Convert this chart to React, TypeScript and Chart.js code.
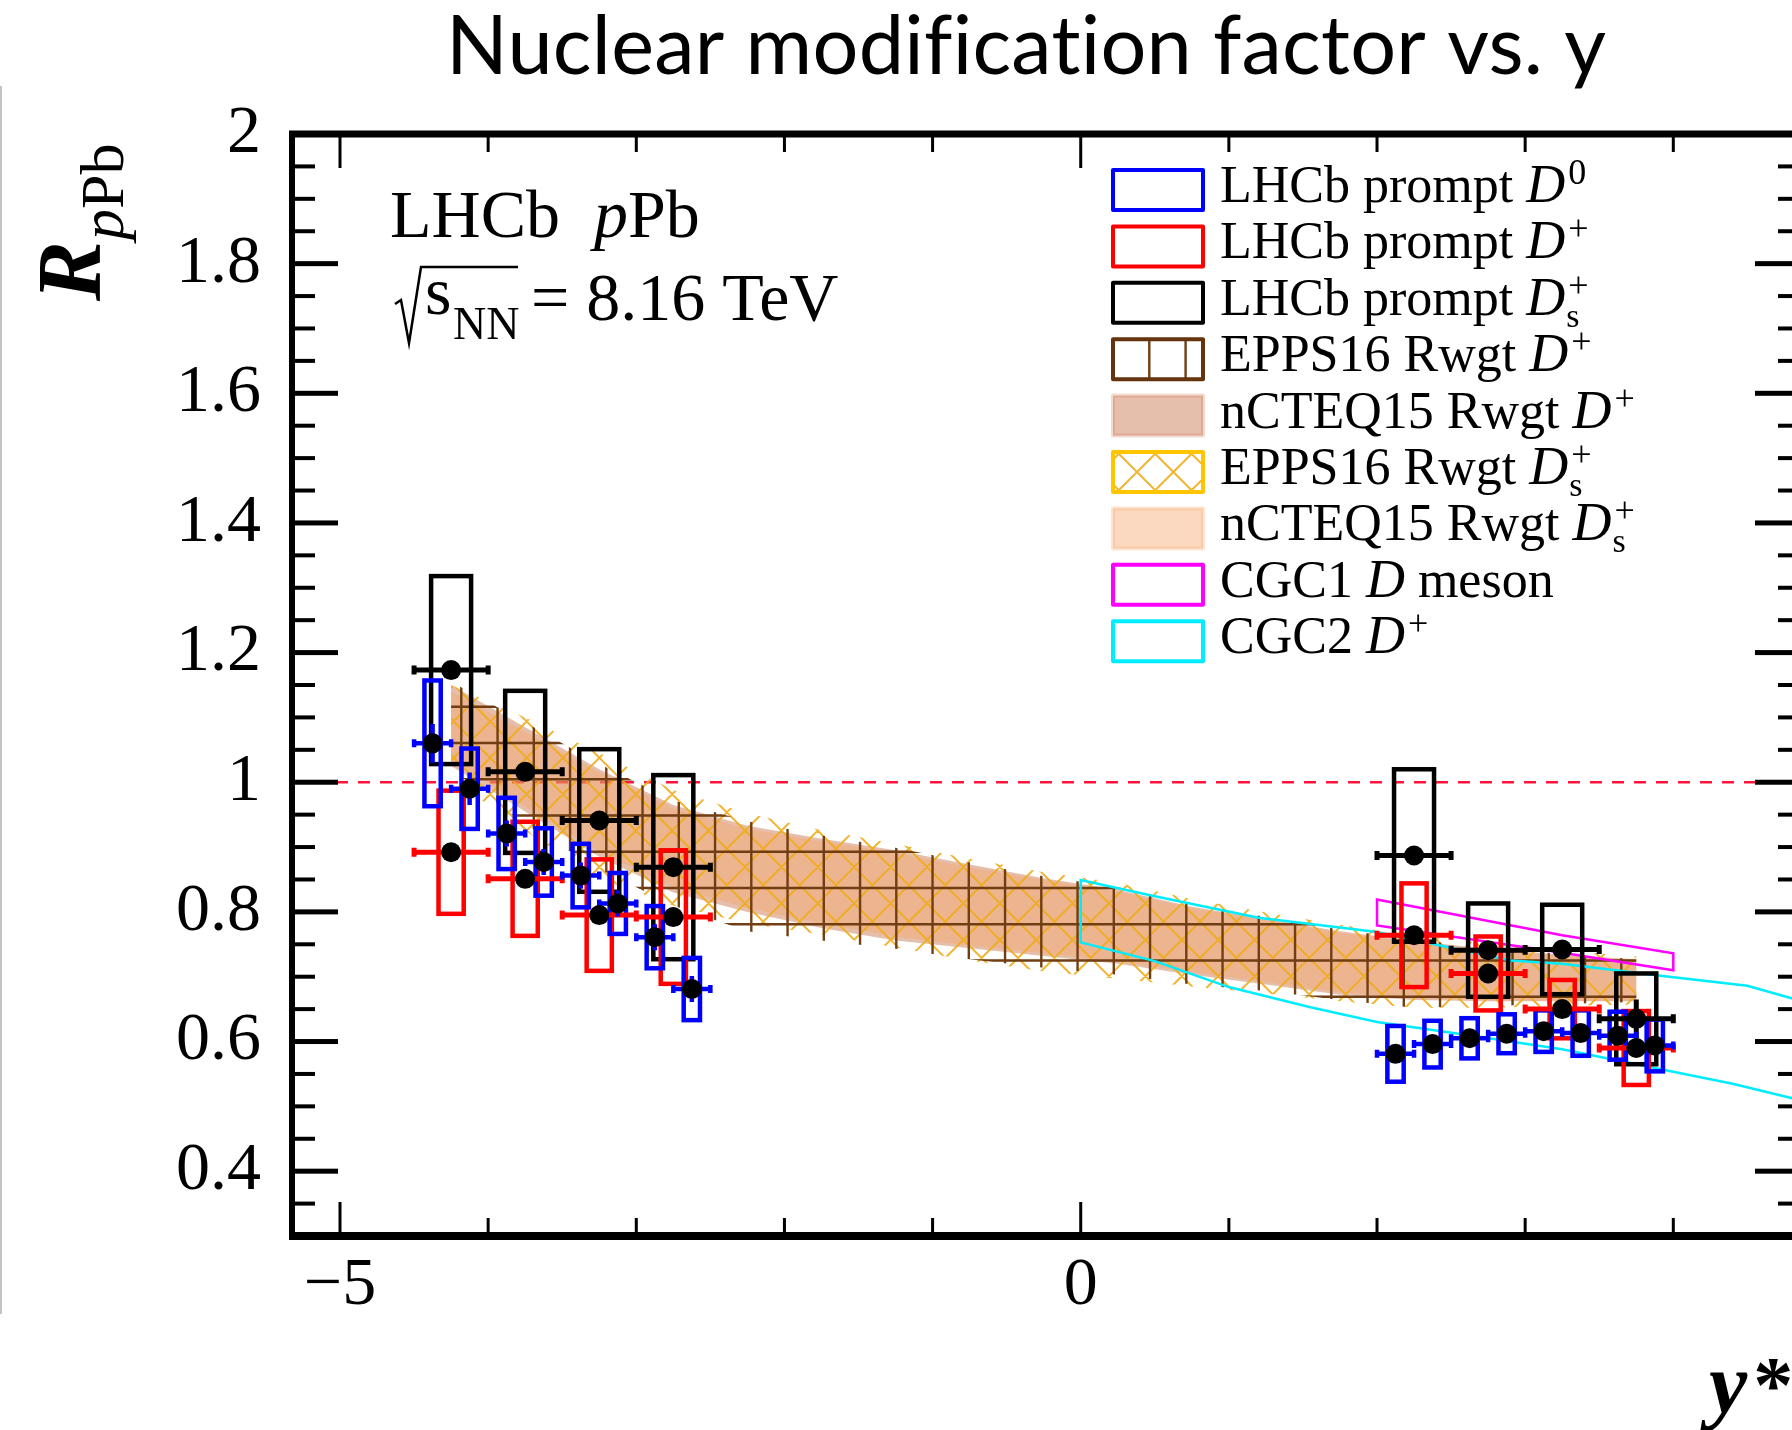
import React, { useEffect, useRef } from 'react';
import { Chart, registerables } from 'chart.js';

Chart.register(...registerables);

const SERIF = "'Liberation Serif', 'Times New Roman', Times, serif";
const SANS = "Lato, 'Open Sans', 'Noto Sans', sans-serif";

const CANVAS_W = 1900;
const CANVAS_H = 1430;

// axes: rapidity y* and nuclear modification factor R_pPb
const X_MIN = -5.324;
const X_MAX = 4.862;
const Y_MIN = 0.3;
const Y_MAX = 2.0;
const X_LABEL_TICKS = [-5, 0];
const X_TICKS = [-5, -4, -3, -2, -1, 0, 1, 2, 3, 4];
const Y_LABEL_TICKS = [0.4, 0.6, 0.8, 1, 1.2, 1.4, 1.6, 1.8, 2];

// LHCb prompt D0 (bin half-width 0.125)
const D0_YSTAR = [-4.375, -4.125, -3.875, -3.625, -3.375, -3.125, -2.875, -2.625, 2.125, 2.375, 2.625, 2.875, 3.125, 3.375, 3.625, 3.875];
const D0_R = [1.06, 0.99, 0.921, 0.877, 0.856, 0.813, 0.761, 0.681, 0.581, 0.596, 0.605, 0.612, 0.616, 0.613, 0.609, 0.594];
const D0_STAT = [0.03, 0.025, 0.02, 0.02, 0.02, 0.02, 0.02, 0.02, 0.012, 0.01, 0.01, 0.01, 0.01, 0.01, 0.01, 0.012];
const D0_SYST = [0.097, 0.062, 0.055, 0.052, 0.049, 0.047, 0.048, 0.048, 0.043, 0.036, 0.031, 0.03, 0.032, 0.035, 0.037, 0.04];

// LHCb prompt D+ (bin half-width 0.25)
const DP_YSTAR = [-4.25, -3.75, -3.25, -2.75, 2.25, 2.75, 3.25, 3.75];
const DP_R = [0.892, 0.851, 0.795, 0.792, 0.764, 0.705, 0.65, 0.59];
const DP_STAT = [0.012, 0.012, 0.012, 0.012, 0.01, 0.01, 0.01, 0.012];
const DP_SYST = [0.095, 0.088, 0.086, 0.103, 0.08, 0.057, 0.045, 0.057];

// LHCb prompt Ds+ (bin half-width 0.25)
const DS_YSTAR = [-4.25, -3.75, -3.25, -2.75, 2.25, 2.75, 3.25, 3.75];
const DS_R = [1.173, 1.016, 0.941, 0.869, 0.887, 0.741, 0.742, 0.635];
const DS_STAT = [0.012, 0.012, 0.012, 0.012, 0.012, 0.012, 0.012, 0.03];
const DS_SYST = [0.145, 0.125, 0.11, 0.142, 0.133, 0.072, 0.069, 0.07];

// reweighted nPDF predictions
const BAND_YSTAR = [-4.25, -3.75, -3.25, -2.75, -2.25, -1.75, -1.25, -0.75, -0.25, 0.25, 0.75, 1.25, 1.75, 2.25, 2.75, 3.25, 3.75];
const EPPS_DP_HI = [1.155, 1.092, 1.028, 0.972, 0.94, 0.918, 0.899, 0.876, 0.855, 0.838, 0.812, 0.792, 0.773, 0.757, 0.745, 0.735, 0.727];
const EPPS_DP_LO = [1.02, 0.935, 0.866, 0.81, 0.77, 0.756, 0.743, 0.727, 0.714, 0.703, 0.688, 0.678, 0.664, 0.652, 0.655, 0.658, 0.661];
const NCTEQ_DP_HI = [1.15, 1.085, 1.02, 0.965, 0.933, 0.913, 0.895, 0.873, 0.852, 0.834, 0.808, 0.789, 0.77, 0.755, 0.743, 0.734, 0.727];
const NCTEQ_DP_LO = [1.025, 0.955, 0.885, 0.83, 0.8, 0.775, 0.756, 0.744, 0.732, 0.72, 0.703, 0.688, 0.672, 0.664, 0.662, 0.662, 0.662];
const EPPS_DS_HI = [1.15, 1.1, 1.045, 0.988, 0.952, 0.926, 0.905, 0.882, 0.861, 0.845, 0.82, 0.799, 0.78, 0.764, 0.751, 0.741, 0.731];
const EPPS_DS_LO = [1.005, 0.925, 0.852, 0.81, 0.782, 0.765, 0.745, 0.725, 0.708, 0.697, 0.685, 0.674, 0.662, 0.652, 0.652, 0.655, 0.657];
const NCTEQ_DS_HI = [1.14, 1.078, 1.015, 0.96, 0.928, 0.909, 0.891, 0.869, 0.849, 0.831, 0.806, 0.787, 0.768, 0.753, 0.741, 0.732, 0.725];
const NCTEQ_DS_LO = [1.035, 0.962, 0.893, 0.838, 0.806, 0.782, 0.762, 0.748, 0.736, 0.724, 0.707, 0.692, 0.676, 0.667, 0.664, 0.663, 0.663];

// CGC predictions
const CGC1_YSTAR = [2.0, 3.25, 4.0];
const CGC1_HI = [0.819, 0.764, 0.736];
const CGC1_LO = [0.779, 0.737, 0.71];
const CGC2_UP_YSTAR = [0, 0.5, 1.2, 2.0, 2.9, 3.25, 3.9, 4.5, 4.81];
const CGC2_UP = [0.849, 0.824, 0.791, 0.769, 0.725, 0.72, 0.702, 0.686, 0.666];
const CGC2_LO_YSTAR = [0, 0.5, 1.0, 1.55, 2.0, 2.55, 3.25, 3.9, 4.4, 4.81];
const CGC2_LO = [0.753, 0.724, 0.684, 0.653, 0.63, 0.612, 0.588, 0.558, 0.535, 0.512];

const TITLE = 'Nuclear modification factor vs. y';

const LEGEND = [
  { head: 'LHCb prompt ', sup: '0', swatch: 'blue' },
  { head: 'LHCb prompt ', sup: '+', swatch: 'red' },
  { head: 'LHCb prompt ', sup: '+', sub: 's', swatch: 'black' },
  { head: 'EPPS16 Rwgt ', sup: '+', swatch: 'grid' },
  { head: 'nCTEQ15 Rwgt ', sup: '+', swatch: 'fillDp' },
  { head: 'EPPS16 Rwgt ', sup: '+', sub: 's', swatch: 'cross' },
  { head: 'nCTEQ15 Rwgt ', sup: '+', sub: 's', swatch: 'fillDs' },
  { head: 'CGC1 ', tail: ' meson', swatch: 'magenta' },
  { head: 'CGC2 ', sup: '+', swatch: 'cyan' },
];

const FILL_DP = 'rgba(200,110,70,0.45)';
const FILL_DS = 'rgba(245,165,105,0.42)';
const BROWN = 'rgb(112,62,18)';
const YELLOW = 'rgba(240,172,25,0.9)';
const MAGENTA = '#ff00ff';
const CYAN = 'rgb(0,236,255)';

type Run = { t: string; style?: string; size: number; dy?: number; dx?: number; adv?: boolean; family?: string };

function drawRuns(ctx: CanvasRenderingContext2D, x: number, y: number, runs: Run[]) {
  let cx = x;
  for (const r of runs) {
    ctx.font = `${r.style ?? ''} ${r.size}px ${r.family ?? SERIF}`;
    ctx.fillText(r.t, cx + (r.dx ?? 0), y + (r.dy ?? 0));
    if (r.adv !== false) cx += ctx.measureText(r.t).width + (r.dx ?? 0);
  }
  return cx;
}

function bandPath(ctx: CanvasRenderingContext2D, px: (v: number) => number, py: (v: number) => number, xs: number[], hi: number[], lo: number[]) {
  ctx.beginPath();
  xs.forEach((v, i) => (i ? ctx.lineTo(px(v), py(hi[i])) : ctx.moveTo(px(v), py(hi[i]))));
  for (let i = xs.length - 1; i >= 0; i--) ctx.lineTo(px(xs[i]), py(lo[i]));
  ctx.closePath();
}

function gridHatch(ctx: CanvasRenderingContext2D, l: number, t: number, r: number, b: number, step: number, ox: number, oy: number) {
  ctx.beginPath();
  for (let gx = ox + Math.ceil((l - ox) / step) * step; gx <= r; gx += step) {
    ctx.moveTo(gx, t);
    ctx.lineTo(gx, b);
  }
  for (let gy = oy + Math.ceil((t - oy) / step) * step; gy <= b; gy += step) {
    ctx.moveTo(l, gy);
    ctx.lineTo(r, gy);
  }
  ctx.stroke();
}

function crossHatch(ctx: CanvasRenderingContext2D, l: number, t: number, r: number, b: number, step: number, ox: number) {
  const h = b - t;
  ctx.beginPath();
  const start = ox + Math.floor((l - h - ox) / step) * step - step;
  for (let c = start; c <= r + step; c += step) {
    ctx.moveTo(c, t);
    ctx.lineTo(c + h, b);
    ctx.moveTo(c + h, t);
    ctx.lineTo(c, b);
  }
  ctx.stroke();
}

function drawBoxes(ctx: CanvasRenderingContext2D, px: (v: number) => number, py: (v: number) => number, xs: number[], ys: number[], sys: number[], half: number, color: string, lw: number) {
  ctx.strokeStyle = color;
  ctx.lineWidth = lw;
  ctx.lineJoin = 'miter';
  xs.forEach((v, i) => {
    const l = px(v - half);
    const r = px(v + half);
    const t = py(ys[i] + sys[i]);
    const b = py(ys[i] - sys[i]);
    ctx.strokeRect(l, t, r - l, b - t);
  });
}

function drawErrors(ctx: CanvasRenderingContext2D, px: (v: number) => number, py: (v: number) => number, xs: number[], ys: number[], stat: number[], halfBin: number, color: string, lw: number, cap: number) {
  ctx.strokeStyle = color;
  ctx.lineWidth = lw;
  ctx.lineCap = 'butt';
  ctx.beginPath();
  xs.forEach((v, i) => {
    const c = px(v);
    const yy = py(ys[i]);
    const l = px(v - halfBin);
    const r = px(v + halfBin);
    ctx.moveTo(l, yy);
    ctx.lineTo(r, yy);
    ctx.moveTo(l, yy - cap);
    ctx.lineTo(l, yy + cap);
    ctx.moveTo(r, yy - cap);
    ctx.lineTo(r, yy + cap);
    ctx.moveTo(c, py(ys[i] + stat[i]));
    ctx.lineTo(c, py(ys[i] - stat[i]));
  });
  ctx.stroke();
}

const physicsLayers = {
  id: 'physicsLayers',
  beforeDatasetsDraw(chart: any) {
    const { ctx, chartArea: a, scales } = chart;
    const px = (v: number) => scales.x.getPixelForValue(v);
    const py = (v: number) => scales.y.getPixelForValue(v);
    ctx.save();
    ctx.beginPath();
    ctx.rect(a.left, a.top, a.right - a.left, a.bottom - a.top);
    ctx.clip();

    // R = 1 reference
    ctx.strokeStyle = 'rgb(255,20,60)';
    ctx.lineWidth = 2.5;
    ctx.setLineDash([12, 10]);
    ctx.beginPath();
    ctx.moveTo(a.left, py(1));
    ctx.lineTo(a.right, py(1));
    ctx.stroke();
    ctx.setLineDash([]);

    // nCTEQ15 filled bands
    bandPath(ctx, px, py, BAND_YSTAR, NCTEQ_DP_HI, NCTEQ_DP_LO);
    ctx.fillStyle = FILL_DP;
    ctx.fill();
    bandPath(ctx, px, py, BAND_YSTAR, NCTEQ_DS_HI, NCTEQ_DS_LO);
    ctx.fillStyle = FILL_DS;
    ctx.fill();

    // EPPS16 Ds+ cross hatch
    ctx.save();
    bandPath(ctx, px, py, BAND_YSTAR, EPPS_DS_HI, EPPS_DS_LO);
    ctx.clip();
    ctx.strokeStyle = YELLOW;
    ctx.lineWidth = 2;
    crossHatch(ctx, a.left, a.top, a.right, a.bottom, 36.4, 12);
    ctx.restore();

    // EPPS16 D+ grid hatch
    ctx.save();
    bandPath(ctx, px, py, BAND_YSTAR, EPPS_DP_HI, EPPS_DP_LO);
    ctx.clip();
    ctx.strokeStyle = BROWN;
    ctx.lineWidth = 2.4;
    gridHatch(ctx, a.left, a.top, a.right, a.bottom, 36.25, 26.3, 18);
    ctx.restore();

    // CGC1 band outline
    ctx.strokeStyle = MAGENTA;
    ctx.lineWidth = 2.5;
    ctx.lineJoin = 'miter';
    bandPath(ctx, px, py, CGC1_YSTAR, CGC1_HI, CGC1_LO);
    ctx.stroke();

    // CGC2 band outline (continues past the frame edge)
    ctx.strokeStyle = CYAN;
    ctx.lineWidth = 2.5;
    ctx.beginPath();
    for (let i = CGC2_LO_YSTAR.length - 1; i >= 0; i--) {
      const X = px(CGC2_LO_YSTAR[i]);
      const Y = py(CGC2_LO[i]);
      if (i === CGC2_LO_YSTAR.length - 1) ctx.moveTo(X, Y);
      else ctx.lineTo(X, Y);
    }
    CGC2_UP_YSTAR.forEach((v, i) => ctx.lineTo(px(v), py(CGC2_UP[i])));
    ctx.stroke();

    // systematic boxes
    drawBoxes(ctx, px, py, DS_YSTAR, DS_R, DS_SYST, 0.135, '#000', 4.5);
    drawBoxes(ctx, px, py, DP_YSTAR, DP_R, DP_SYST, 0.085, '#ff0000', 4.5);
    drawBoxes(ctx, px, py, D0_YSTAR, D0_R, D0_SYST, 0.055, '#0000ff', 4.5);

    // statistical errors and bin widths
    drawErrors(ctx, px, py, DS_YSTAR, DS_R, DS_STAT, 0.25, '#000', 5, 4.5);
    drawErrors(ctx, px, py, DP_YSTAR, DP_R, DP_STAT, 0.25, '#ff0000', 5, 4.5);
    drawErrors(ctx, px, py, D0_YSTAR, D0_R, D0_STAT, 0.125, '#0000ff', 4.5, 4);

    ctx.restore();
  },

  afterDraw(chart: any) {
    const { ctx, chartArea: a, scales } = chart;
    const px = (v: number) => scales.x.getPixelForValue(v);
    const py = (v: number) => scales.y.getPixelForValue(v);
    ctx.save();
    ctx.fillStyle = '#000';

    // frame
    ctx.fillRect(a.left - 3, a.top - 3.5, a.right - a.left + 6, 7);
    ctx.fillRect(a.left - 3, a.bottom - 4, a.right - a.left + 6, 8);
    ctx.fillRect(a.left - 3, a.top, 6, a.bottom - a.top);
    ctx.fillRect(a.right - 3, a.top, 6, a.bottom - a.top);

    // y ticks, every 0.05, major every 0.2
    for (let k = 7; k < 40; k++) {
      const v = k * 0.05;
      const major = k % 4 === 0;
      const len = major ? 46 : 23;
      const th = major ? 5 : 4;
      const Y = py(v);
      ctx.fillRect(a.left, Y - th / 2, len, th);
      ctx.fillRect(a.right - len, Y - th / 2, len, th);
    }
    // x ticks
    X_TICKS.forEach((v) => {
      const major = X_LABEL_TICKS.includes(v);
      const len = major ? 34 : 18;
      const X = px(v);
      ctx.fillRect(X - 1.5, a.top, 3, len);
      ctx.fillRect(X - 1.5, a.bottom - len, 3, len);
    });

    // experiment label
    ctx.textAlign = 'left';
    ctx.textBaseline = 'alphabetic';
    drawRuns(ctx, 390, 237, [
      { t: 'LHCb  ', size: 68 },
      { t: 'p', style: 'italic', size: 68 },
      { t: 'Pb', size: 68 },
    ]);
    ctx.strokeStyle = '#000';
    ctx.lineWidth = 2.5;
    ctx.lineJoin = 'miter';
    ctx.beginPath();
    ctx.moveTo(395, 304);
    ctx.lineTo(401, 300);
    ctx.lineTo(409, 343);
    ctx.lineTo(421, 267);
    ctx.lineTo(518, 267);
    ctx.stroke();
    drawRuns(ctx, 425, 314, [{ t: 's', size: 68 }]);
    drawRuns(ctx, 453, 339, [{ t: 'NN', size: 46 }]);
    drawRuns(ctx, 531, 320, [{ t: '= 8.16 TeV', size: 68 }]);

    // legend
    const lx = 1113;
    const lw = 90;
    const lh = 40;
    LEGEND.forEach((e, i) => {
      const top = 170 + i * 56.4;
      ctx.save();
      ctx.lineJoin = 'round';
      const outline = (c: string) => {
        ctx.strokeStyle = c;
        ctx.lineWidth = 4;
        ctx.strokeRect(lx, top, lw, lh);
      };
      switch (e.swatch) {
        case 'blue': outline('#0000ff'); break;
        case 'red': outline('#ff0000'); break;
        case 'black': outline('#000'); break;
        case 'magenta': outline(MAGENTA); break;
        case 'cyan': outline(CYAN); break;
        case 'grid':
          ctx.strokeStyle = BROWN;
          ctx.lineWidth = 2.4;
          ctx.beginPath();
          ctx.moveTo(lx + 36.3, top);
          ctx.lineTo(lx + 36.3, top + lh);
          ctx.moveTo(lx + 72.6, top);
          ctx.lineTo(lx + 72.6, top + lh);
          ctx.stroke();
          outline('rgb(100,52,14)');
          break;
        case 'fillDp':
          ctx.fillStyle = FILL_DP;
          ctx.fillRect(lx, top, lw, lh);
          outline('rgba(200,110,70,0.25)');
          break;
        case 'fillDs':
          ctx.fillStyle = FILL_DS;
          ctx.fillRect(lx, top, lw, lh);
          outline('rgba(245,165,105,0.3)');
          break;
        case 'cross':
          ctx.save();
          ctx.beginPath();
          ctx.rect(lx, top, lw, lh);
          ctx.clip();
          ctx.strokeStyle = YELLOW;
          ctx.lineWidth = 2;
          crossHatch(ctx, lx, top, lx + lw, top + lh, 36.4, lx + 4);
          ctx.restore();
          outline('rgb(255,198,0)');
          break;
      }
      ctx.restore();
      ctx.fillStyle = '#000';
      const runs: Run[] = [
        { t: e.head, size: 52 },
        { t: 'D', style: 'italic', size: 54 },
      ];
      if (e.sup && e.sub) {
        runs.push({ t: e.sup, size: 36, dy: -18, dx: 3, adv: false });
        runs.push({ t: e.sub, size: 34, dy: 12, dx: 1 });
      } else if (e.sup) {
        runs.push({ t: e.sup, size: 36, dy: -18, dx: 3 });
      }
      if (e.tail) runs.push({ t: e.tail, size: 52 });
      drawRuns(ctx, 1220, top + 32, runs);
    });

    // vertical axis title
    ctx.save();
    ctx.translate(100, 301);
    ctx.rotate(-Math.PI / 2);
    drawRuns(ctx, 0, 0, [
      { t: 'R', style: 'italic bold', size: 90 },
      { t: 'p', style: 'italic', size: 62, dy: 23, dx: 1 },
      { t: 'Pb', size: 62, dy: 23 },
    ]);
    ctx.restore();

    // horizontal axis title
    drawRuns(ctx, 1709, 1412, [
      { t: 'y', style: 'italic bold', size: 86 },
      { t: '*', style: 'bold', size: 80, dx: 6 },
    ]);

    // page title
    ctx.font = `400 81px ${SANS}`;
    (ctx as any).letterSpacing = '0px';
    const w0 = ctx.measureText(TITLE).width;
    const targetW = 1160;
    const spacing = (targetW - w0) / (TITLE.length - 1);
    (ctx as any).letterSpacing = `${spacing.toFixed(2)}px`;
    ctx.textAlign = 'left';
    ctx.fillText(TITLE, 446, 74);
    (ctx as any).letterSpacing = '0px';

    // left page edge rule
    ctx.fillStyle = '#c4c4c4';
    ctx.fillRect(0, 86, 2, 1228);

    ctx.restore();
  },
};

const tickLabel = (v: number) => {
  const s = String(Math.round(v * 10) / 10);
  return s.replace('-', '\u2212');
};

export default function App() {
  const ref = useRef<HTMLCanvasElement>(null);

  useEffect(() => {
    const canvas = ref.current;
    if (!canvas) return;
    const point = (xs: number[], ys: number[]) => xs.map((x, i) => ({ x, y: ys[i] }));
    const marker = { pointRadius: 10, pointBackgroundColor: '#000', pointBorderColor: '#000', pointBorderWidth: 0, showLine: false };
    const chart = new Chart(canvas, {
      type: 'scatter',
      data: {
        datasets: [
          { label: 'LHCb prompt D0', data: point(D0_YSTAR, D0_R), ...marker },
          { label: 'LHCb prompt D+', data: point(DP_YSTAR, DP_R), ...marker },
          { label: 'LHCb prompt Ds+', data: point(DS_YSTAR, DS_R), ...marker },
        ],
      },
      options: {
        animation: false,
        responsive: false,
        maintainAspectRatio: false,
        devicePixelRatio: 1,
        events: [],
        layout: { padding: { left: 0, right: CANVAS_W - 1801, top: 134, bottom: 0 } },
        plugins: { legend: { display: false }, tooltip: { enabled: false }, title: { display: false } },
        scales: {
          x: {
            type: 'linear',
            min: X_MIN,
            max: X_MAX,
            grid: { display: false, drawTicks: false },
            border: { display: false },
            ticks: {
              autoSkip: false,
              maxRotation: 0,
              padding: 9,
              color: '#000',
              font: { family: SERIF, size: 68, lineHeight: 1.2 },
              callback: (v: any) => tickLabel(Number(v)),
            },
            afterBuildTicks: (s: any) => {
              s.ticks = X_LABEL_TICKS.map((value) => ({ value }));
            },
            afterFit: (s: any) => {
              s.height = CANVAS_H - 1236;
            },
          },
          y: {
            type: 'linear',
            min: Y_MIN,
            max: Y_MAX,
            grid: { display: false, drawTicks: false },
            border: { display: false },
            ticks: {
              autoSkip: false,
              padding: 31,
              color: '#000',
              font: { family: SERIF, size: 68, lineHeight: 1.2 },
              callback: (v: any) => tickLabel(Number(v)),
            },
            afterBuildTicks: (s: any) => {
              s.ticks = Y_LABEL_TICKS.map((value) => ({ value }));
            },
            afterFit: (s: any) => {
              s.width = 292;
            },
          },
        },
      },
      plugins: [physicsLayers],
    } as any);
    return () => chart.destroy();
  }, []);

  return (
    <div style={{ position: 'fixed', left: 0, top: 0, width: 1792, height: 1430, overflow: 'hidden', background: '#fff' }}>
      <canvas ref={ref} width={CANVAS_W} height={CANVAS_H} style={{ display: 'block', width: CANVAS_W, height: CANVAS_H }} />
    </div>
  );
}
